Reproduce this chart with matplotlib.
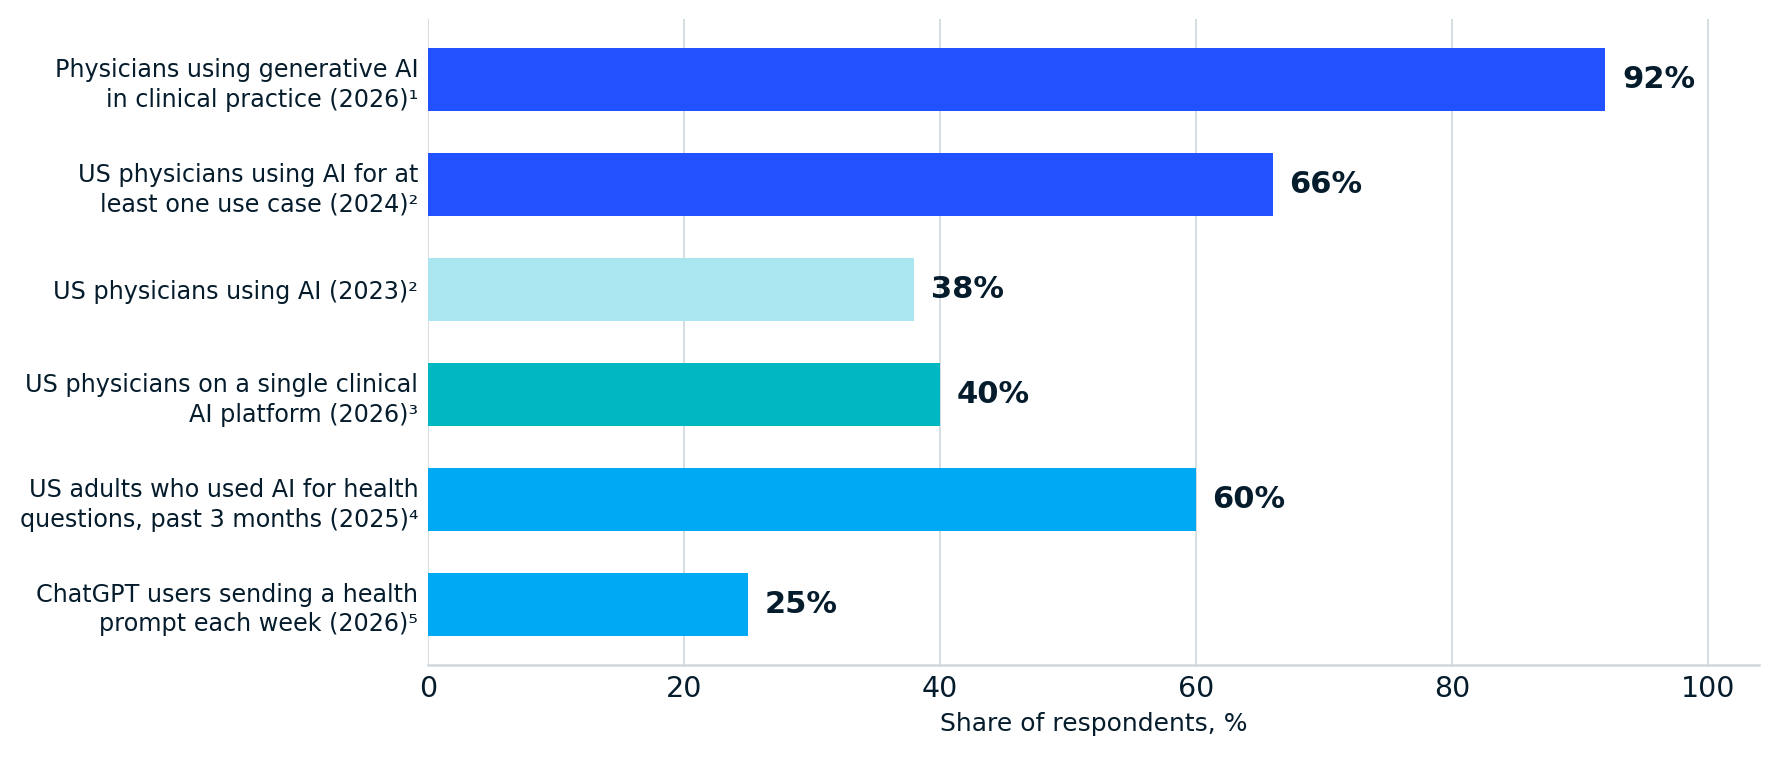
import matplotlib
matplotlib.use("Agg")
import matplotlib.pyplot as plt

categories = [
    "Physicians using generative AI\nin clinical practice (2026)¹",
    "US physicians using AI for at\nleast one use case (2024)²",
    "US physicians using AI (2023)²",
    "US physicians on a single clinical\nAI platform (2026)³",
    "US adults who used AI for health\nquestions, past 3 months (2025)⁴",
    "ChatGPT users sending a health\nprompt each week (2026)⁵",
]
values = [92, 66, 38, 40, 60, 25]
colors = ["#2251FF", "#2251FF", "#AAE6F0", "#00B8C2", "#00A9F4", "#00A9F4"]
xticks = [0, 20, 40, 60, 80, 100]
xlabel = "Share of respondents, %"

TEXT = "#051C2C"
GRID = "#D0D8DC"

plt.rcParams["font.family"] = ["DejaVu Sans"]
fig = plt.figure(figsize=(17.79, 7.58), dpi=100)
ax = fig.add_axes([428 / 1779, 1 - 665 / 758, (1759 - 428) / 1779, (665 - 19) / 758])

ypos = list(range(len(categories)))
ax.barh(ypos, values, height=0.6, color=colors, zorder=3)
ax.invert_yaxis()
ax.set_yticks(ypos)
ax.set_yticklabels(categories, fontsize=17.2, color=TEXT, linespacing=1.3)
ax.set_xlim(0, 104)
ax.set_xticks(xticks)
ax.set_xticklabels([str(t) for t in xticks], fontsize=20.5, color=TEXT)
ax.set_xlabel(xlabel, fontsize=18, color=TEXT, labelpad=6)
ax.tick_params(axis="both", length=0)
ax.tick_params(axis="y", pad=7)
ax.tick_params(axis="x", pad=7.5)

ax.grid(axis="x", color=GRID, linewidth=1.2, zorder=0)
ax.grid(axis="y", visible=False)
for s in ["top", "right", "left"]:
    ax.spines[s].set_visible(False)
ax.spines["bottom"].set_color(GRID)
ax.spines["bottom"].set_linewidth(1.8)

for y, v in zip(ypos, values):
    ax.annotate(f"{v}%", xy=(v, y), xytext=(12, 0), textcoords="offset points",
                va="center", ha="left", fontsize=22, fontweight="bold", color=TEXT)

fig.savefig("out.png", dpi=100)
